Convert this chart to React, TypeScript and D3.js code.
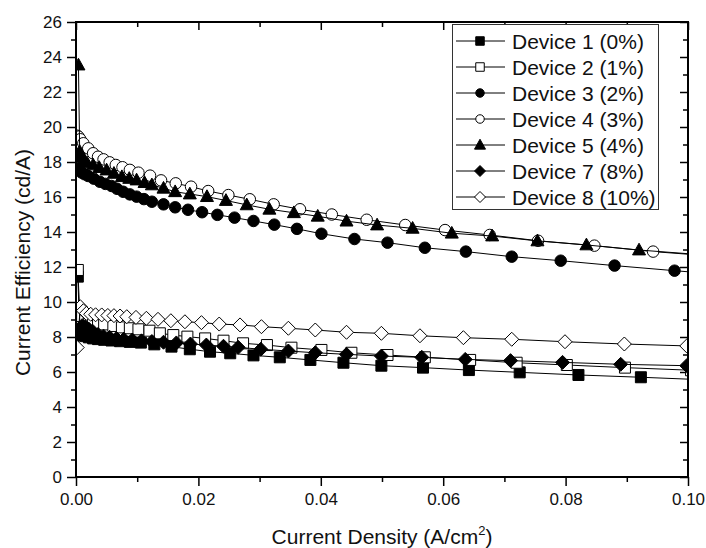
import React, { useEffect, useRef } from "react";
import * as d3 from "d3";

// legend labels
const deviceNames = [
  "Device 1 (0%)",
  "Device 2 (1%)",
  "Device 3 (2%)",
  "Device 4 (3%)",
  "Device 5 (4%)",
  "Device 7 (8%)",
  "Device 8 (10%)",
];

// current density (A/cm2) and current efficiency (cd/A)
const dev1X = [0.0003, 0.0006, 0.001, 0.0015, 0.0021, 0.0028, 0.0036, 0.0046, 0.0058, 0.0072, 0.0088, 0.0106, 0.0128, 0.0156, 0.0186, 0.0219, 0.0252, 0.029, 0.0333, 0.0383, 0.0437, 0.0499, 0.0567, 0.0642, 0.0725, 0.0821, 0.0923, 0.103];
const dev1Y = [11.45, 8.3, 8.15, 8.05, 7.98, 7.92, 7.88, 7.84, 7.8, 7.76, 7.72, 7.68, 7.58, 7.45, 7.3, 7.16, 7.07, 6.95, 6.84, 6.69, 6.53, 6.36, 6.25, 6.11, 5.98, 5.83, 5.7, 5.55];

const dev2X = [0.0003, 0.0006, 0.001, 0.0015, 0.0021, 0.0028, 0.0036, 0.0046, 0.0061, 0.0075, 0.0088, 0.0102, 0.012, 0.0137, 0.0159, 0.0182, 0.0211, 0.0241, 0.0273, 0.0312, 0.0352, 0.0401, 0.045, 0.0509, 0.057, 0.0644, 0.072, 0.0802, 0.0897, 0.1005];
const dev2Y = [11.83, 9.5, 9.2, 9.05, 8.95, 8.88, 8.8, 8.72, 8.63, 8.55, 8.5, 8.44, 8.36, 8.21, 8.11, 8.02, 7.92, 7.79, 7.64, 7.54, 7.39, 7.26, 7.1, 6.97, 6.84, 6.69, 6.53, 6.4, 6.25, 6.1];

const dev3X = [0.0002, 0.0005, 0.0009, 0.0014, 0.002, 0.0029, 0.0039, 0.0048, 0.0058, 0.0067, 0.0077, 0.0088, 0.0099, 0.0111, 0.0124, 0.0143, 0.0162, 0.0183, 0.0206, 0.0231, 0.0259, 0.029, 0.0324, 0.0361, 0.0401, 0.0455, 0.0509, 0.057, 0.0637, 0.0712, 0.0792, 0.088, 0.0978, 0.108];
const dev3Y = [18.3, 17.6, 17.4, 17.3, 17.2, 17.05, 16.87, 16.75, 16.63, 16.47, 16.3, 16.15, 16.02, 15.88, 15.73, 15.58, 15.41, 15.27, 15.13, 14.98, 14.82, 14.63, 14.42, 14.18, 13.9, 13.6, 13.39, 13.1, 12.88, 12.59, 12.36, 12.08, 11.79, 11.5];

const dev4X = [0.0002, 0.0004, 0.0007, 0.0012, 0.002, 0.0028, 0.0036, 0.0045, 0.0055, 0.0065, 0.0076, 0.0088, 0.0102, 0.0121, 0.0139, 0.0163, 0.0188, 0.0216, 0.0249, 0.0284, 0.0323, 0.0366, 0.0418, 0.0475, 0.0538, 0.0603, 0.0676, 0.0755, 0.0847, 0.0943, 0.105];
const dev4Y = [19.5, 19.45, 19.3, 19.07, 18.78, 18.5, 18.3, 18.15, 17.98, 17.83, 17.7, 17.55, 17.39, 17.22, 16.95, 16.78, 16.59, 16.34, 16.11, 15.87, 15.58, 15.3, 15.0, 14.7, 14.4, 14.11, 13.83, 13.5, 13.22, 12.88, 12.6];

const dev5X = [0.0004, 0.0006, 0.0009, 0.0013, 0.0018, 0.0028, 0.0038, 0.005, 0.0062, 0.0075, 0.0087, 0.0099, 0.0112, 0.0124, 0.0143, 0.0162, 0.0186, 0.0214, 0.0245, 0.0279, 0.0316, 0.0356, 0.0395, 0.0442, 0.0492, 0.055, 0.0614, 0.068, 0.0754, 0.0834, 0.092, 0.1015];
const dev5Y = [23.54, 18.6, 18.3, 18.1, 17.95, 17.83, 17.68, 17.54, 17.35, 17.16, 17.06, 16.97, 16.82, 16.69, 16.5, 16.3, 16.17, 16.02, 15.8, 15.55, 15.3, 15.1, 14.9, 14.62, 14.4, 14.21, 13.93, 13.77, 13.49, 13.26, 12.97, 12.72];

const dev7X = [0.0003, 0.0006, 0.001, 0.0015, 0.0021, 0.0028, 0.0036, 0.0045, 0.0055, 0.0066, 0.0078, 0.0092, 0.0107, 0.0124, 0.0143, 0.0164, 0.0187, 0.0213, 0.0241, 0.0265, 0.0302, 0.0347, 0.0391, 0.0442, 0.0499, 0.0565, 0.0636, 0.071, 0.0795, 0.089, 0.0998];
const dev7Y = [8.1, 8.5, 8.65, 8.6, 8.45, 8.3, 8.15, 8.05, 7.98, 7.92, 7.87, 7.83, 7.78, 7.74, 7.7, 7.66, 7.6, 7.54, 7.47, 7.41, 7.3, 7.2, 7.1, 7.01, 6.91, 6.84, 6.72, 6.65, 6.55, 6.44, 6.36];

const dev8X = [0.0002, 0.0007, 0.0012, 0.0017, 0.0024, 0.0032, 0.0042, 0.0052, 0.0062, 0.0072, 0.0083, 0.0098, 0.0115, 0.0134, 0.0155, 0.0178, 0.0205, 0.0234, 0.0268, 0.0303, 0.0347, 0.0391, 0.0442, 0.0499, 0.0562, 0.0633, 0.0712, 0.0799, 0.0896, 0.0998];
const dev8Y = [7.4, 9.73, 9.5, 9.35, 9.3, 9.27, 9.26, 9.23, 9.22, 9.2, 9.16, 9.12, 9.07, 9.01, 8.93, 8.87, 8.82, 8.74, 8.69, 8.59, 8.5, 8.4, 8.27, 8.21, 8.07, 7.96, 7.87, 7.73, 7.6, 7.49];

const xMajorTicks = [0, 0.02, 0.04, 0.06, 0.08, 0.1];
const xMinorTicks = [0.01, 0.03, 0.05, 0.07, 0.09];
const yMajorTicks = [0, 2, 4, 6, 8, 10, 12, 14, 16, 18, 20, 22, 24, 26];
const yMinorTicks = [1, 3, 5, 7, 9, 11, 13, 15, 17, 19, 21, 23, 25];

const FONT = "'Liberation Sans', Arial, Helvetica, sans-serif";

type Shape = "square" | "circle" | "triangle" | "diamond";

const series = [
  { name: deviceNames[0], xs: dev1X, ys: dev1Y, shape: "square" as Shape, filled: true },
  { name: deviceNames[1], xs: dev2X, ys: dev2Y, shape: "square" as Shape, filled: false },
  { name: deviceNames[2], xs: dev3X, ys: dev3Y, shape: "circle" as Shape, filled: true },
  { name: deviceNames[3], xs: dev4X, ys: dev4Y, shape: "circle" as Shape, filled: false },
  { name: deviceNames[4], xs: dev5X, ys: dev5Y, shape: "triangle" as Shape, filled: true },
  { name: deviceNames[5], xs: dev7X, ys: dev7Y, shape: "diamond" as Shape, filled: true },
  { name: deviceNames[6], xs: dev8X, ys: dev8Y, shape: "diamond" as Shape, filled: false },
];

// marker path centred on 0,0; s = overall size in px
const markerPath = (shape: Shape, s: number) => {
  const h = s / 2;
  if (shape === "square") return `M${-h},${-h}H${h}V${h}H${-h}Z`;
  if (shape === "circle") return `M${h},0A${h},${h} 0 1,1 ${-h},0A${h},${h} 0 1,1 ${h},0Z`;
  if (shape === "triangle") return `M0,${-h * 1.05}L${h},${h * 0.75}L${-h},${h * 0.75}Z`;
  return `M0,${-h}L${h},0L0,${h}L${-h},0Z`;
};

const markerSize: Record<Shape, number> = { square: 11, circle: 11.5, triangle: 13, diamond: 14 };

const Chart = () => {
  const ref = useRef<SVGSVGElement>(null);

  useEffect(() => {
    const width = 706;
    const height = 548;
    const left = 76, right = 688, top = 22, bottom = 477;

    const svg = d3.select(ref.current);
    svg.selectAll("*").remove();
    svg.attr("width", width).attr("height", height);

    const x = d3.scaleLinear().domain([0, 0.1]).range([left, right]);
    const y = d3.scaleLinear().domain([0, 26]).range([bottom, top]);

    svg.append("defs")
      .append("clipPath")
      .attr("id", "plotClip")
      .append("rect")
      .attr("x", left)
      .attr("y", top)
      .attr("width", right - left)
      .attr("height", bottom - top);

    const styleAxis = (g: any) => {
      g.select(".domain").remove();
      g.selectAll("line").attr("stroke", "#000").attr("stroke-width", 1.5);
      g.selectAll("text").attr("fill", "#111").style("font-family", FONT).style("font-size", "17px");
    };

    // bottom
    svg.append("g").attr("transform", `translate(0,${bottom})`)
      .call(d3.axisBottom(x).tickValues(xMajorTicks).tickSize(9).tickPadding(7).tickFormat(d3.format(".2f")))
      .call(styleAxis);
    svg.append("g").attr("transform", `translate(0,${bottom})`)
      .call(d3.axisBottom(x).tickValues(xMinorTicks).tickSize(5).tickFormat(() => ""))
      .call(styleAxis);
    // top (inward)
    svg.append("g").attr("transform", `translate(0,${top})`)
      .call(d3.axisTop(x).tickValues(xMajorTicks).tickSize(-8).tickFormat(() => ""))
      .call(styleAxis);
    svg.append("g").attr("transform", `translate(0,${top})`)
      .call(d3.axisTop(x).tickValues(xMinorTicks).tickSize(-5).tickFormat(() => ""))
      .call(styleAxis);
    // left
    svg.append("g").attr("transform", `translate(${left},0)`)
      .call(d3.axisLeft(y).tickValues(yMajorTicks).tickSize(9).tickPadding(5).tickFormat(d3.format("d")))
      .call(styleAxis);
    svg.append("g").attr("transform", `translate(${left},0)`)
      .call(d3.axisLeft(y).tickValues(yMinorTicks).tickSize(5).tickFormat(() => ""))
      .call(styleAxis);
    // right (inward)
    svg.append("g").attr("transform", `translate(${right},0)`)
      .call(d3.axisRight(y).tickValues(yMajorTicks).tickSize(-8).tickFormat(() => ""))
      .call(styleAxis);
    svg.append("g").attr("transform", `translate(${right},0)`)
      .call(d3.axisRight(y).tickValues(yMinorTicks).tickSize(-5).tickFormat(() => ""))
      .call(styleAxis);

    const plot = svg.append("g").attr("clip-path", "url(#plotClip)");

    const line = d3.line<[number, number]>()
      .x((d) => x(d[0]))
      .y((d) => y(d[1]));

    series.forEach((s) => {
      const pts: [number, number][] = s.xs.map((v, i) => [v, s.ys[i]]);
      const g = plot.append("g");
      g.append("path")
        .attr("d", line(pts))
        .attr("fill", "none")
        .attr("stroke", "#000")
        .attr("stroke-width", 1);
      g.selectAll("path.mk")
        .data(pts)
        .enter()
        .append("path")
        .attr("class", "mk")
        .attr("transform", (d) => `translate(${x(d[0])},${y(d[1])})`)
        .attr("d", markerPath(s.shape, markerSize[s.shape]))
        .attr("fill", s.filled ? "#000" : "#fff")
        .attr("stroke", "#000")
        .attr("stroke-width", 1);
    });

    // frame
    svg.append("rect")
      .attr("x", left)
      .attr("y", top)
      .attr("width", right - left)
      .attr("height", bottom - top)
      .attr("fill", "none")
      .attr("stroke", "#000")
      .attr("stroke-width", 2);

    // legend
    const legend = svg.append("g");
    legend.append("rect")
      .attr("x", 452.5)
      .attr("y", 24.5)
      .attr("width", 206)
      .attr("height", 185)
      .attr("fill", "#fff")
      .attr("stroke", "#333")
      .attr("stroke-width", 1);

    series.forEach((s, i) => {
      const cy = 41 + i * 26;
      legend.append("line")
        .attr("x1", 456).attr("x2", 505)
        .attr("y1", cy).attr("y2", cy)
        .attr("stroke", "#000").attr("stroke-width", 1);
      legend.append("path")
        .attr("transform", `translate(480,${cy})`)
        .attr("d", markerPath(s.shape, s.shape === "diamond" ? 11 : s.shape === "triangle" ? 11 : 8.5))
        .attr("fill", s.filled ? "#000" : "#fff")
        .attr("stroke", "#000")
        .attr("stroke-width", 1);
      legend.append("text")
        .attr("x", 512)
        .attr("y", cy + 7.5)
        .style("font-family", FONT)
        .style("font-size", "21px")
        .attr("fill", "#111")
        .text(s.name);
    });

    // axis titles
    svg.append("text")
      .attr("transform", `translate(29.5,262.5) rotate(-90)`)
      .attr("text-anchor", "middle")
      .style("font-family", FONT)
      .style("font-size", "21px")
      .attr("fill", "#111")
      .text("Current Efficiency (cd/A)");

    const xt = svg.append("text")
      .attr("x", 382)
      .attr("y", 544)
      .attr("text-anchor", "middle")
      .style("font-family", FONT)
      .style("font-size", "21px")
      .attr("fill", "#111");
    xt.append("tspan").text("Current Density (A/cm");
    xt.append("tspan").attr("dy", -9).style("font-size", "13px").text("2");
    xt.append("tspan").attr("dy", 9).text(")");
  });

  return <svg ref={ref} style={{ position: "absolute", left: 0, top: 0 }}></svg>;
};

export default function App() {
  return <Chart />;
}
